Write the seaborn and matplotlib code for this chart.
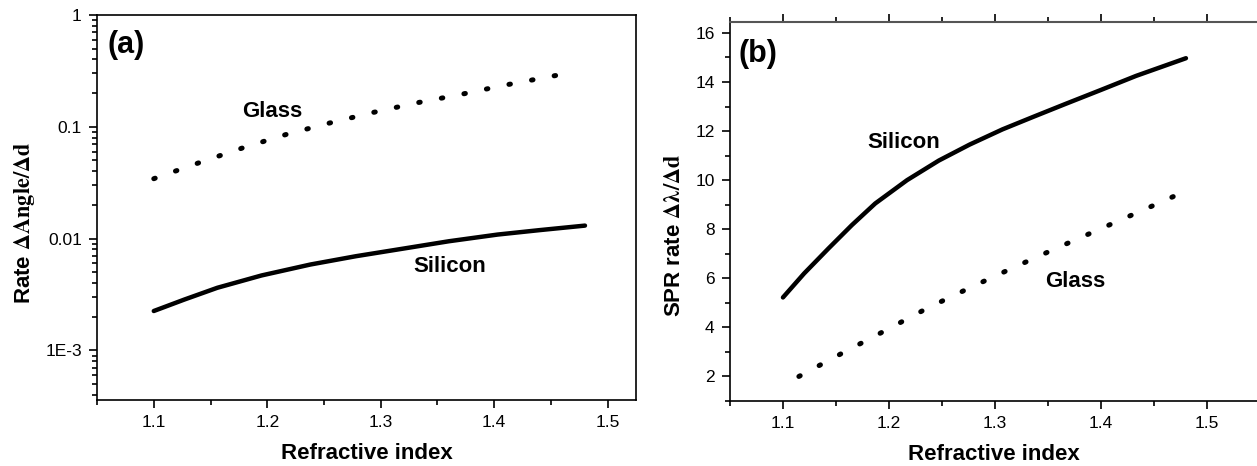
import numpy as np
import pandas as pd
import seaborn as sns
import matplotlib.pyplot as plt
from matplotlib.ticker import FixedLocator, FixedFormatter, MultipleLocator, LogLocator, NullFormatter

# panel (a): rate dAngle/dd, log scale
a_si_n = [1.100, 1.127, 1.156, 1.195, 1.238, 1.278, 1.324, 1.360, 1.403, 1.440, 1.480]
a_si_rate = [0.00225, 0.00285, 0.00363, 0.00468, 0.00586, 0.00695, 0.00826, 0.00946, 0.01086, 0.0119, 0.01306]
a_gl_n = [1.100, 1.140, 1.178, 1.217, 1.255, 1.293, 1.331, 1.370, 1.408, 1.446, 1.468]
a_gl_rate = [0.0343, 0.0477, 0.0645, 0.0855, 0.108, 0.134, 0.163, 0.194, 0.234, 0.277, 0.305]

# panel (b): SPR rate dlambda/dd
b_si_n = [1.100, 1.120, 1.143, 1.165, 1.187, 1.217, 1.247, 1.276, 1.307, 1.336, 1.366, 1.400, 1.433, 1.480]
b_si_rate = [5.22, 6.20, 7.22, 8.17, 9.05, 10.00, 10.80, 11.45, 12.07, 12.58, 13.10, 13.68, 14.25, 14.97]
b_gl_n = [1.115, 1.155, 1.196, 1.236, 1.277, 1.318, 1.358, 1.398, 1.439, 1.482]
b_gl_rate = [2.00, 2.93, 3.86, 4.78, 5.63, 6.45, 7.23, 7.99, 8.77, 9.60]

sns.set_style("ticks")
plt.rcParams['font.family'] = ['Liberation Sans', 'DejaVu Sans']
plt.rcParams['mathtext.fontset'] = 'stix'
for k in ['text.color', 'axes.labelcolor', 'xtick.color', 'ytick.color', 'axes.edgecolor']:
    plt.rcParams[k] = 'black'

fig = plt.figure(figsize=(12.57, 4.66), dpi=100)
ax1 = fig.add_axes([0.0772, 0.1416, 0.4288, 0.8264])
ax2 = fig.add_axes([0.5807, 0.1395, 0.4193, 0.8135])

dotted = dict(color='black', lw=3.6, linestyle=(0, (0.3, 4.3)), dash_capstyle='round')
solid = dict(color='black', lw=3.2, solid_capstyle='round')

# ---- (a)
sns.lineplot(x=a_si_n, y=a_si_rate, ax=ax1, **solid)
sns.lineplot(x=a_gl_n, y=a_gl_rate, ax=ax1, **dotted)
ax1.set_yscale('log')
ax1.set_xlim(1.05, 1.525)
ax1.set_ylim(3.6e-4, 1)
ax1.yaxis.set_major_locator(FixedLocator([1e-3, 1e-2, 1e-1, 1]))
ax1.yaxis.set_major_formatter(FixedFormatter(['1E-3', '0.01', '0.1', '1']))
ax1.yaxis.set_minor_locator(LogLocator(base=10, subs=np.arange(2, 10)))
ax1.yaxis.set_minor_formatter(NullFormatter())
ax1.xaxis.set_major_locator(MultipleLocator(0.1))
ax1.xaxis.set_minor_locator(MultipleLocator(0.05))
for s in ax1.spines.values():
    s.set_visible(True)
    s.set_linewidth(1.2)
ax1.set_xlabel('Refractive index', fontsize=16, fontweight='bold')
ax1.set_ylabel(r'Rate $\mathbf{\Delta Angle/\Delta d}$', fontsize=16, fontweight='bold')
ax1.yaxis.set_label_coords(-0.112, 0.46)
ax1.text(0.019, 0.922, '(a)', transform=ax1.transAxes, fontsize=22, fontweight='bold', va='center')
ax1.text(1.204, 0.137, 'Glass', fontsize=16, fontweight='bold', ha='center', va='center')
ax1.text(1.361, 0.00559, 'Silicon', fontsize=16, fontweight='bold', ha='center', va='center')

# ---- (b)
sns.lineplot(x=b_si_n, y=b_si_rate, ax=ax2, **solid)
sns.lineplot(x=b_gl_n, y=b_gl_rate, ax=ax2, **dotted)
ax2.set_xlim(1.05, 1.547)
ax2.set_ylim(1.0, 16.45)
ax2.xaxis.set_major_locator(MultipleLocator(0.1))
ax2.xaxis.set_minor_locator(MultipleLocator(0.05))
ax2.yaxis.set_major_locator(MultipleLocator(2))
ax2.yaxis.set_minor_locator(MultipleLocator(1))
ax2.spines['right'].set_visible(False)
ax2.spines['top'].set_visible(True)
ax2.spines['top'].set_color('#555555')
ax2.spines['top'].set_linewidth(1.5)
for k in ['left', 'bottom']:
    ax2.spines[k].set_linewidth(1.2)
ax2.set_xlabel('Refractive index', fontsize=16, fontweight='bold')
ax2.set_ylabel(r'SPR rate $\mathbf{\Delta\lambda/\Delta d}$', fontsize=16, fontweight='bold')
ax2.yaxis.set_label_coords(-0.086, 0.438)
ax2.text(0.017, 0.916, '(b)', transform=ax2.transAxes, fontsize=22, fontweight='bold', va='center')
ax2.text(1.214, 11.55, 'Silicon', fontsize=16, fontweight='bold', ha='center', va='center')
ax2.text(1.376, 5.88, 'Glass', fontsize=16, fontweight='bold', ha='center', va='center')

for ax in (ax1, ax2):
    ax.tick_params(which='major', length=6, width=1.2, labelsize=12.5, direction='out', pad=5)
    ax.tick_params(which='minor', length=3.5, width=1.2, direction='out')
    ax.xaxis.labelpad = 9
ax2.tick_params(axis='x', which='both', top=True, labeltop=False)
ax2.tick_params(axis='x', which='both', length=3, top=True, bottom=False)
ax2.tick_params(axis='x', which='major', bottom=True, length=6)
ax2.tick_params(axis='x', which='minor', bottom=True, length=3.5)

fig.savefig('out.png', dpi=100)
